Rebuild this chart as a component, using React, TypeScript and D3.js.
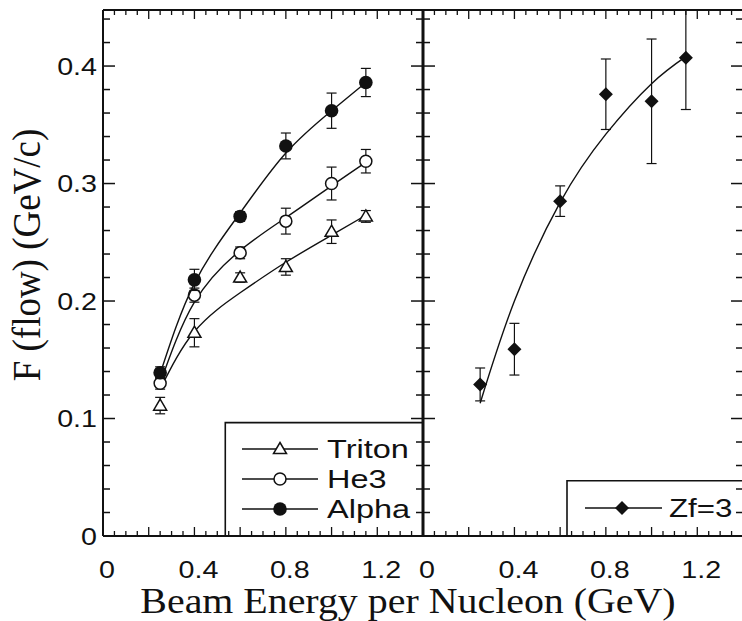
import React from "react";
import * as d3 from "d3";

const energies = [0.25, 0.4, 0.6, 0.8, 1.0, 1.15];
const tritonF = [0.111, 0.173, 0.220, 0.229, 0.259, 0.272];
const tritonErr = [0.007, 0.012, 0.004, 0.007, 0.010, 0.005];
const he3F = [0.130, 0.205, 0.241, 0.268, 0.300, 0.319];
const he3Err = [0.005, 0.006, 0.005, 0.011, 0.014, 0.010];
const alphaF = [0.139, 0.218, 0.272, 0.332, 0.362, 0.386];
const alphaErr = [0.005, 0.009, 0.004, 0.011, 0.015, 0.012];
const zfF = [0.129, 0.159, 0.285, 0.376, 0.370, 0.407];
const zfErr = [0.014, 0.022, 0.013, 0.030, 0.053, 0.044];

// fitted curves
const fitE = [0.25, 0.4, 0.6, 0.8, 1.0, 1.15];
const tritonFit = [0.125, 0.174, 0.207, 0.233, 0.256, 0.273];
const he3Fit = [0.130, 0.199, 0.243, 0.271, 0.298, 0.318];
const alphaFit = [0.138, 0.215, 0.275, 0.326, 0.362, 0.386];
const zfFit = [0.113, 0.200, 0.284, 0.342, 0.385, 0.408];

const xTickLabels = ["0", "0.4", "0.8", "1.2"];
const xTickValues = [0, 0.4, 0.8, 1.2];
const yTickValues = [0, 0.1, 0.2, 0.3, 0.4];
const yTickLabels = ["0", "0.1", "0.2", "0.3", "0.4"];

const legendLeft = ["Triton", "He3", "Alpha"];
const legendRight = ["Zf=3"];
const xTitle = "Beam Energy per Nucleon (GeV)";
const yTitle = "F (flow) (GeV/c)";

const SANS = "'Liberation Sans', Arial, Helvetica, sans-serif";
const SERIF = "'Liberation Serif', 'Times New Roman', serif";

const top = 10, bottom = 536;
const xL = d3.scaleLinear().domain([0, 1.4]).range([103, 423]);
const xR = d3.scaleLinear().domain([0, 1.4]).range([423, 743]);
const y = d3.scaleLinear().domain([0, 0.4477]).range([bottom, top]);

type Marker = "tri" | "circ" | "disk" | "diam";

function MarkerShape({ kind, cx, cy }: { kind: Marker; cx: number; cy: number }) {
  if (kind === "tri") {
    const s = 6.5;
    return (
      <path
        d={`M${cx},${cy - s}L${cx + s},${cy + s * 0.7}L${cx - s},${cy + s * 0.7}Z`}
        fill="white"
        stroke="#111"
        strokeWidth={1.5}
      />
    );
  }
  if (kind === "circ") return <circle cx={cx} cy={cy} r={6} fill="white" stroke="#111" strokeWidth={1.5} />;
  if (kind === "disk") return <circle cx={cx} cy={cy} r={6.8} fill="#111" />;
  const s = 7;
  return <path d={`M${cx},${cy - s}L${cx + s},${cy}L${cx},${cy + s}L${cx - s},${cy}Z`} fill="#111" />;
}

function Stretch({ x, y: yy, sx, sy = 1, anchor, size, family, children, rotate = 0 }: any) {
  return (
    <g transform={`translate(${x},${yy}) scale(${sx},${sy}) rotate(${rotate})`}>
      <text textAnchor={anchor} fontSize={size} fontFamily={family} fill="#111">
        {children}
      </text>
    </g>
  );
}

function Series({ x, vals, errs, fit, kind, clip }: any) {
  const line = d3
    .line<number>()
    .x((_, i) => x(fitE[i]))
    .y((d) => y(d))
    .curve(d3.curveNatural);
  return (
    <g clipPath={`url(#${clip})`}>
      <path d={line(fit) || ""} fill="none" stroke="#111" strokeWidth={1.4} />
      {energies.map((e: number, i: number) => {
        const cx = x(e);
        const y1 = y(vals[i] + errs[i]);
        const y2 = y(vals[i] - errs[i]);
        return (
          <g key={i} stroke="#111" strokeWidth={1.2}>
            <line x1={cx} x2={cx} y1={y1} y2={y2} />
            <line x1={cx - 5} x2={cx + 5} y1={y1} y2={y1} />
            <line x1={cx - 5} x2={cx + 5} y1={y2} y2={y2} />
          </g>
        );
      })}
      {energies.map((e: number, i: number) => (
        <MarkerShape key={"m" + i} kind={kind} cx={x(e)} cy={y(vals[i])} />
      ))}
    </g>
  );
}

function Frame({ x, left, right }: any) {
  const xs = d3.range(0, 1.4001, 0.05).map((v) => +v.toFixed(2));
  const ys = d3.range(0, 0.4401, 0.02).map((v) => +v.toFixed(2));
  const x0 = x.range()[0];
  const x1 = x.range()[1];
  return (
    <g stroke="#111">
      {xs.map((v) => {
        const major = Math.abs((v / 0.2) - Math.round(v / 0.2)) < 1e-6;
        const len = major ? 9 : 5;
        return (
          <g key={"x" + v} strokeWidth={1.3}>
            <line x1={x(v)} x2={x(v)} y1={bottom} y2={bottom - len} />
            <line x1={x(v)} x2={x(v)} y1={top} y2={top + len} />
          </g>
        );
      })}
      {ys.map((v) => {
        const major = Math.abs((v / 0.1) - Math.round(v / 0.1)) < 1e-6;
        const len = major ? 12 : 7;
        return (
          <g key={"y" + v} strokeWidth={1.5}>
            {left && <line x1={x0} x2={x0 + len} y1={y(v)} y2={y(v)} />}
            {right && <line x1={x1} x2={x1 - len} y1={y(v)} y2={y(v)} />}
          </g>
        );
      })}
    </g>
  );
}

export default function App() {
  return (
    <svg width={742} height={621} style={{ position: "absolute", left: 0, top: 0 }}>
      <rect width={742} height={621} fill="white" />
      <defs>
        <clipPath id="clipL">
          <rect x={103} y={top} width={320} height={bottom - top} />
        </clipPath>
        <clipPath id="clipR">
          <rect x={423} y={top} width={320} height={bottom - top} />
        </clipPath>
      </defs>

      {/* legends (behind frame) */}
      <g>
        <path d={`M${xL(0.535)},${bottom}V${y(0.0965)}H${423}`} fill="none" stroke="#111" strokeWidth={1.6} />
        {legendLeft.map((name, i) => {
          const ly = 449 + i * 30;
          const kind: Marker = i === 0 ? "tri" : i === 1 ? "circ" : "disk";
          return (
            <g key={name}>
              <line x1={242} x2={318} y1={ly} y2={ly} stroke="#111" strokeWidth={1.4} />
              <MarkerShape kind={kind} cx={280} cy={ly} />
              <Stretch x={327} y={ly + 9} sx={1.3} anchor="start" size={25} family={SANS}>
                {name}
              </Stretch>
            </g>
          );
        })}
        <path d={`M${xR(0.63)},${bottom}V${y(0.047)}H${745}`} fill="none" stroke="#111" strokeWidth={1.6} />
        {legendRight.map((name) => {
          const ly = 508;
          return (
            <g key={name}>
              <line x1={585} x2={662} y1={ly} y2={ly} stroke="#111" strokeWidth={1.4} />
              <MarkerShape kind="diam" cx={622} cy={ly} />
              <Stretch x={669} y={ly + 9} sx={1.25} anchor="start" size={25} family={SANS}>
                {name}
              </Stretch>
            </g>
          );
        })}
      </g>

      {/* data */}
      <Series x={xL} vals={tritonF} errs={tritonErr} fit={tritonFit} kind="tri" clip="clipL" />
      <Series x={xL} vals={he3F} errs={he3Err} fit={he3Fit} kind="circ" clip="clipL" />
      <Series x={xL} vals={alphaF} errs={alphaErr} fit={alphaFit} kind="disk" clip="clipL" />
      <Series x={xR} vals={zfF} errs={zfErr} fit={zfFit} kind="diam" clip="clipR" />

      {/* frames */}
      <Frame x={xL} left right />
      <Frame x={xR} left right />
      <g fill="none" stroke="#111">
        <line x1={103} x2={745} y1={top} y2={top} strokeWidth={2} />
        <line x1={103} x2={745} y1={bottom} y2={bottom} strokeWidth={2} />
        <line x1={103} x2={103} y1={top} y2={bottom} strokeWidth={2} />
        <line x1={423} x2={423} y1={top} y2={bottom} strokeWidth={3} />
      </g>

      {/* tick labels */}
      {yTickValues.map((v, i) => (
        <Stretch key={"yl" + i} x={97} y={y(v) + 8.5} sx={1.22} anchor="end" size={23.5} family={SANS}>
          {yTickLabels[i]}
        </Stretch>
      ))}
      {[xL, xR].map((sc, k) =>
        xTickValues.map((v, i) => (
          <Stretch key={"xl" + k + i} x={sc(v) + 4} y={578} sx={1.22} anchor="middle" size={23.5} family={SANS}>
            {xTickLabels[i]}
          </Stretch>
        ))
      )}

      {/* titles */}
      <Stretch x={408} y={613} sx={1.14} anchor="middle" size={35} family={SERIF}>
        {xTitle}
      </Stretch>
      <Stretch x={40} y={255} sx={1.1} anchor="middle" size={37} family={SERIF} rotate={-90}>
        {yTitle}
      </Stretch>
    </svg>
  );
}
